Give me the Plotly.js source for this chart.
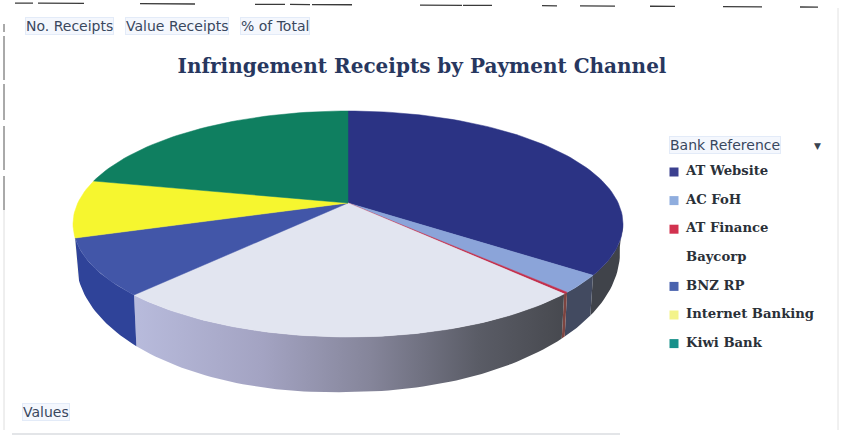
<!DOCTYPE html>
<html>
<head>
<meta charset="utf-8">
<script src="https://cdn.plot.ly/plotly-3.0.1.min.js"></script>
<style>html,body{margin:0;padding:0;background:#fff}#chart{width:843px;height:436px}</style>
</head>
<body>
<div id="chart"></div>
<script>
// Share of receipts per payment channel, percent of total
const channels = ["AT Website", "AC FoH", "AT Finance", "Baycorp", "BNZ RP", "Internet Banking", "Kiwi Bank"];
const shares = [32.5, 2.83, 0.28, 28.58, 8.83, 8.19, 18.79];
const topColors = ["#2b3384", "#8ba4d9", "#c22f4c", "#e2e5f0", "#4256a8", "#f6f62f", "#0f7f60"];
const swatchColors = ["#3b408f", "#8fadde", "#d2324f", "#ffffff", "#4a63ae", "#f3f38a", "#17908a"];
const wallColors = ["#40434a", "#424a60", "#7c4440", "#80808f", "#2f4399", "#c9c92a", "#0c5f48"];
const modeButtons = ["No. Receipts", "Value Receipts", "% of Total"];

// Drawing geometry of the tilted disc, in page pixels
const disc = {cx: 348, cy: 224, rx: 275, ry: 113, apexY: 203};
const base = {cx: 348, cy: 252, rx: 272, ry: 140, leftDrop: 8};
const wallFrom = 88, wallTo = 263;
const rad = d => d * Math.PI / 180;

const topPt = t => [disc.cx + disc.rx * Math.sin(rad(t)), disc.cy - disc.ry * Math.cos(rad(t))];
const basePt = t => {
  const s = Math.sin(rad(t));
  return [base.cx + base.rx * s, base.cy - base.ry * Math.cos(rad(t)) + (s < 0 ? -s * base.leftDrop : 0)];
};
function sweep(a, b, fn) {
  const n = Math.max(2, Math.ceil(Math.abs(b - a) / 1.5));
  return Array.from({length: n + 1}, (_, i) => fn(a + (b - a) * i / n));
}

// Cumulative slice boundaries in degrees, clockwise from twelve o'clock
const total = shares.reduce((s, v) => s + v, 0);
let running = 0;
const bounds = shares.map(v => {
  const a = running; running += v;
  return [a / total * 360, running / total * 360];
});

const traces = [];

// Side walls first, so the top face covers whatever lies behind it
bounds.forEach(([a, b], i) => {
  const from = Math.max(a, wallFrom), to = Math.min(b, wallTo);
  if (to <= from) return;
  const pts = sweep(from, to, topPt).concat(sweep(to, from, basePt));
  const tr = {
    type: "scatter", mode: "lines", name: channels[i] + " side",
    x: pts.map(p => p[0]), y: pts.map(p => p[1]),
    fill: "toself", fillcolor: wallColors[i],
    line: {width: 0, color: wallColors[i]}, hoverinfo: "skip", showlegend: false
  };
  if (channels[i] === "Baycorp") {
    tr.fillgradient = {type: "horizontal", colorscale: [
      [0, "#b8bbdc"], [0.3, "#a3a3c2"], [0.55, "#85859a"], [0.8, "#5a5c66"], [1, "#47494f"]
    ]};
  }
  traces.push(tr);
});

// Top face slices
bounds.forEach(([a, b], i) => {
  const arc = sweep(a, b, topPt);
  const pts = [[disc.cx, disc.apexY]].concat(arc, [[disc.cx, disc.apexY]]);
  traces.push({
    type: "scatter", mode: "lines", name: channels[i],
    x: pts.map(p => p[0]), y: pts.map(p => p[1]),
    fill: "toself", fillcolor: topColors[i],
    line: {width: 0.5, color: topColors[i]},
    text: channels[i] + ": " + shares[i] + "%", hoverinfo: "text", showlegend: false
  });
});

// Legend column: swatches and labels
const legendY = channels.map((_, i) => 172 + i * 28.6);
traces.push({
  type: "scatter", mode: "markers", x: channels.map(() => 674), y: legendY,
  marker: {symbol: "square", size: 9, color: swatchColors}, hoverinfo: "skip", showlegend: false
});
traces.push({
  type: "scatter", mode: "text", x: channels.map(() => 686), y: legendY, text: channels,
  textposition: "middle right",
  textfont: {family: "DejaVu Serif", size: 13.2, color: "#2a3038", weight: 700},
  hoverinfo: "skip", showlegend: false
});

// Scanned page edge
const topEdge = [[15,33],[38,84],[140,195],[255,285],[290,310],[312,352],[420,462],[463,492],[542,557],[580,615],[650,675],[723,762],[800,818]];
const leftEdge = [[24,32],[36,80],[84,120],[126,170],[176,210]];
const shapes = [];
topEdge.forEach(([a, b]) => shapes.push({type: "line", xref: "x", yref: "y", x0: a, x1: b, y0: 3 + a * 0.005, y1: 3 + b * 0.005, line: {color: "#3a3a3a", width: 1.3}}));
leftEdge.forEach(([a, b]) => shapes.push({type: "line", xref: "x", yref: "y", x0: 4, x1: 4, y0: a, y1: b, line: {color: "#555", width: 1}}));
shapes.push({type: "line", xref: "x", yref: "y", x0: 4, x1: 4, y0: 210, y1: 430, line: {color: "#dedede", width: 1}});
shapes.push({type: "line", xref: "x", yref: "y", x0: 12, x1: 620, y0: 434, y1: 434, line: {color: "#dadde0", width: 1.5}});
shapes.push({type: "line", xref: "x", yref: "y", x0: 838, x1: 838, y0: 8, y1: 430, line: {color: "#e2e2e2", width: 1}});

const buttonFont = {family: "DejaVu Sans", size: 14, color: "#39475e"};
const pill = (text, x, y, anchor) => ({
  text, x, y, xref: "x", yref: "y", xanchor: anchor || "left", yanchor: "middle", showarrow: false,
  font: buttonFont, bgcolor: "#f4f7fd", bordercolor: "#e3ebf8", borderwidth: 1, borderpad: 0
});
const modeX = [25, 125, 240];

const layout = {
  width: 843, height: 436, margin: {l: 0, r: 0, t: 0, b: 0},
  paper_bgcolor: "#ffffff", plot_bgcolor: "#ffffff", showlegend: false,
  xaxis: {range: [0, 843], visible: false, fixedrange: true},
  yaxis: {range: [436, 0], visible: false, fixedrange: true},
  title: {
    text: "<b>Infringement Receipts by Payment Channel</b>",
    x: 422 / 843, xanchor: "center", y: 1 - 66 / 436, yanchor: "middle",
    font: {family: "DejaVu Serif", size: 20, color: "#27375f"}
  },
  shapes,
  annotations: modeButtons.map((t, i) => pill(t, modeX[i], 26)).concat([
    pill("Values", 22, 412),
    pill("Bank Reference", 669, 145),
    {text: "▼", x: 817, y: 146, xref: "x", yref: "y", showarrow: false, font: {size: 9, color: "#3a4350", family: "DejaVu Sans"}}
  ])
};

Plotly.newPlot("chart", traces, layout, {displayModeBar: false});
</script>
</body>
</html>
